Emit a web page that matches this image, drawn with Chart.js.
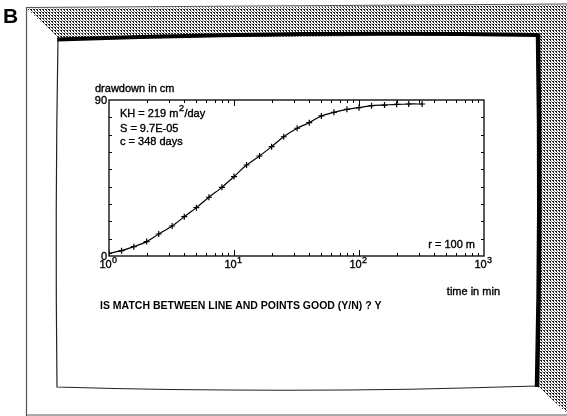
<!DOCTYPE html>
<html>
<head>
<meta charset="utf-8">
<script src="https://cdn.jsdelivr.net/npm/chart.js@4"></script>
<style>
  html, body { margin: 0; padding: 0; background: #fff; }
  canvas { display: block; }
</style>
</head>
<body>
<canvas id="chart" width="567" height="416"></canvas>
<script>
// time since start of pumping (min) and drawdown (cm)
const timeMin = [1, 1.26, 1.58, 2, 2.5, 3.2, 4, 5, 6.3, 8, 10, 12.6, 16, 20, 25, 32, 40, 50, 63, 80, 100, 126, 160, 200, 250, 320];
const drawdownCm = [1.5, 3.1, 5.4, 8.3, 12.7, 17.3, 22.7, 27.9, 33.9, 39.6, 45.8, 52.5, 57.7, 63.1, 68.8, 73.7, 76.9, 80.8, 82.9, 84.6, 85.6, 86.7, 87.1, 87.5, 87.7, 87.7];

const xDecades = [1, 10, 100, 1000];
const xExponents = ["0", "1", "2", "3"];
const yLabelValues = [0, 90];
const yMinorValues = [10, 20, 30, 40, 50, 60, 70, 80];

const yTitle = "drawdown in cm";
const xTitle = "time in min";
const paramLines = ["S = 9.7E-05", "c = 348 days"];
const radiusNote = "r = 100 m";
const question = "IS MATCH BETWEEN LINE AND POINTS GOOD (Y/N) ? Y";

const FONT = '"Liberation Sans", Arial, sans-serif';

// halftone screen for the shaded bezel
function dotPattern(ctx) {
  const t = document.createElement("canvas");
  t.width = 6; t.height = 6;
  const p = t.getContext("2d");
  p.fillStyle = "#fff";
  p.fillRect(0, 0, 6, 6);
  p.fillStyle = "#222";
  [[0, 0], [3, 0], [0, 3], [3, 3]].forEach(([x, y]) => p.fillRect(x, y, 2, 1));
  [[1, 1], [4, 1], [1, 4], [4, 4]].forEach(([x, y]) => p.fillRect(x, y, 1, 1));
  p.fillStyle = "#888";
  [[1.5, 1.5], [4.5, 1.5], [1.5, 4.5], [4.5, 4.5]].forEach(([x, y]) => p.fillRect(x + 0.5, y + 0.5, 1, 1));
  return ctx.createPattern(t, "repeat");
}

// print-like text: fill plus a hairline stroke
function inkText(ctx, s, x, y) {
  ctx.fillText(s, x, y);
  ctx.strokeText(s, x, y);
}

// monitor frame drawn behind the chart
const framePlugin = {
  id: "frame",
  beforeDraw(chart) {
    const ctx = chart.ctx;
    ctx.save();
    ctx.fillStyle = "#fff";
    ctx.fillRect(0, 0, chart.width, chart.height);

    ctx.fillStyle = dotPattern(ctx);
    ctx.beginPath();
    ctx.moveTo(27, 8.5);
    ctx.lineTo(567, 5);
    ctx.lineTo(567, 413);
    ctx.lineTo(537, 386);
    ctx.lineTo(538, 35);
    ctx.lineTo(58, 38);
    ctx.closePath();
    ctx.fill();

    ctx.strokeStyle = "#555";
    ctx.lineWidth = 1.2;
    ctx.beginPath();
    ctx.moveTo(26.5, 416);
    ctx.lineTo(26.5, 7.5);
    ctx.lineTo(567, 4);
    ctx.moveTo(26, 415);
    ctx.lineTo(567, 415);
    ctx.stroke();

    ctx.strokeStyle = "#000";
    ctx.lineWidth = 4;
    ctx.beginPath();
    ctx.moveTo(57, 39.5);
    ctx.quadraticCurveTo(300, 31, 538, 35);
    ctx.stroke();
    ctx.lineWidth = 4.5;
    ctx.beginPath();
    ctx.moveTo(538, 33.5);
    ctx.quadraticCurveTo(541, 210, 537, 387);
    ctx.stroke();

    ctx.lineWidth = 1.2;
    ctx.strokeStyle = "#222";
    ctx.beginPath();
    ctx.moveTo(58, 38);
    ctx.quadraticCurveTo(55, 210, 57, 387);
    ctx.quadraticCurveTo(300, 394, 537, 386);
    ctx.stroke();

    ctx.fillStyle = "#000";
    ctx.font = "bold 21px " + FONT;
    ctx.textBaseline = "alphabetic";
    ctx.fillText("B", 3, 22.5);
    ctx.restore();
  }
};

// box, inward ticks and labels, placed through the chart's scales
const axesPlugin = {
  id: "axesBox",
  afterDatasetsDraw(chart) {
    const ctx = chart.ctx;
    const xs = chart.scales.x, ys = chart.scales.y;
    const a = chart.chartArea;
    ctx.save();
    ctx.strokeStyle = "#000";
    ctx.lineWidth = 1.3;
    ctx.strokeRect(a.left, a.top, a.right - a.left, a.bottom - a.top);

    ctx.lineWidth = 1;
    ctx.beginPath();
    xDecades.slice(0, 3).forEach(d => {
      for (let k = 2; k <= 9; k++) {
        const px = Math.round(xs.getPixelForValue(k * d)) + 0.5;
        ctx.moveTo(px, a.bottom); ctx.lineTo(px, a.bottom - 3);
        ctx.moveTo(px, a.top); ctx.lineTo(px, a.top + 3);
      }
    });
    xDecades.slice(1, 3).forEach(d => {
      const px = Math.round(xs.getPixelForValue(d)) + 0.5;
      ctx.moveTo(px, a.bottom); ctx.lineTo(px, a.bottom - 6);
      ctx.moveTo(px, a.top); ctx.lineTo(px, a.top + 6);
    });
    yMinorValues.forEach(v => {
      const py = Math.round(ys.getPixelForValue(v)) + 0.5;
      ctx.moveTo(a.left, py); ctx.lineTo(a.left + 3, py);
      ctx.moveTo(a.right, py); ctx.lineTo(a.right - 3, py);
    });
    ctx.stroke();

    ctx.fillStyle = "#000";
    ctx.lineWidth = 0.35;
    ctx.font = "11px " + FONT;
    ctx.textBaseline = "alphabetic";

    ctx.textAlign = "right";
    yLabelValues.forEach(v => {
      inkText(ctx, String(v), a.left - 2, ys.getPixelForValue(v) + 4);
    });

    ctx.textAlign = "left";
    xDecades.forEach((d, i) => {
      const px = xs.getPixelForValue(d);
      ctx.font = "11px " + FONT;
      const w1 = ctx.measureText("10").width;
      ctx.font = "9px " + FONT;
      const w2 = ctx.measureText(xExponents[i]).width;
      const x0 = px - (w1 + w2) / 2 - 1;
      ctx.font = "11px " + FONT;
      inkText(ctx, "10", x0, a.bottom + 12);
      ctx.font = "9px " + FONT;
      inkText(ctx, xExponents[i], x0 + w1 + 0.5, a.bottom + 6.5);
    });

    ctx.font = "11px " + FONT;
    inkText(ctx, yTitle, 95, a.top - 8);
    ctx.textAlign = "right";
    inkText(ctx, xTitle, a.right + 16, a.bottom + 39);
    inkText(ctx, radiusNote, a.right - 9, a.bottom - 8.5);

    ctx.textAlign = "left";
    const tx = a.left + 11;
    const s = "KH = 219 m";
    inkText(ctx, s, tx, a.top + 17);
    const w = ctx.measureText(s).width;
    ctx.font = "9px " + FONT;
    inkText(ctx, "2", tx + w + 0.5, a.top + 11);
    const w2 = ctx.measureText("2").width;
    ctx.font = "11px " + FONT;
    inkText(ctx, "/day", tx + w + w2 + 1, a.top + 17);
    paramLines.forEach((line, i) => {
      inkText(ctx, line, tx, a.top + 32 + i * 13);
    });

    ctx.font = "bold 10.5px " + FONT;
    ctx.fillText(question, 100, a.bottom + 52.5);
    ctx.restore();
  }
};

new Chart(document.getElementById("chart"), {
  type: "line",
  data: {
    labels: timeMin,
    datasets: [{
      data: timeMin.map((t, i) => ({ x: t, y: drawdownCm[i] })),
      borderColor: "#000",
      borderWidth: 1.2,
      pointStyle: "cross",
      pointRadius: 3,
      pointBorderColor: "#000",
      pointBorderWidth: 1.2,
      tension: 0.3,
      fill: false
    }]
  },
  options: {
    responsive: false,
    animation: false,
    devicePixelRatio: 1,
    layout: { padding: { left: 109, right: 83, top: 100, bottom: 160 } },
    plugins: { legend: { display: false }, tooltip: { enabled: false } },
    scales: {
      x: {
        type: "logarithmic",
        min: 1,
        max: 1000,
        ticks: { display: false },
        grid: { display: false },
        border: { display: false },
        afterFit: s => { s.height = 0; }
      },
      y: {
        type: "linear",
        min: 0,
        max: 90,
        ticks: { display: false },
        grid: { display: false },
        border: { display: false },
        afterFit: s => { s.width = 0; }
      }
    }
  },
  plugins: [framePlugin, axesPlugin]
});
</script>
</body>
</html>
